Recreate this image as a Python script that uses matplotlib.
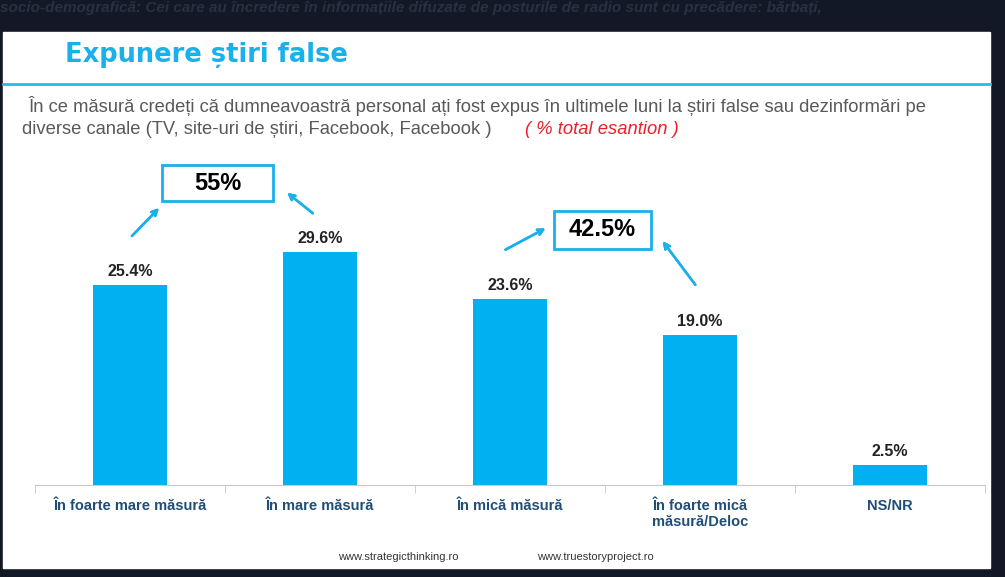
import matplotlib.pyplot as plt
from matplotlib.patches import Rectangle

plt.rcParams["font.family"] = "Liberation Sans"

categories = ["În foarte mare măsură", "În mare măsură", "În mică măsură",
              "În foarte mică\nmăsură/Deloc", "NS/NR"]
values = [25.4, 29.6, 23.6, 19.0, 2.5]
labels = ["25.4%", "29.6%", "23.6%", "19.0%", "2.5%"]

W, H = 1005, 577
fig = plt.figure(figsize=(W / 100, H / 100), dpi=100)
fig.patch.set_facecolor("#121826")

def fx(x): return x / W
def fy(y): return 1 - y / H

# slide background
fig.patches.append(Rectangle((fx(3), fy(568)), fx(987), (568 - 32) / H,
                             transform=fig.transFigure, color="white", zorder=-10))
fig.text(fx(0), fy(8), "socio-demografică: Cei care au încredere în informațiile difuzate de posturile de radio sunt cu precădere: bărbați,",
         fontsize=11, style="italic", weight="bold", color="#2a3040", va="center")

fig.text(fx(65), fy(55), "Expunere știri false", fontsize=18.5, weight="bold",
         color="#1ab0ea", va="center", family="DejaVu Sans")
fig.add_artist(plt.Line2D([fx(3), fx(990)], [fy(84), fy(84)], color="#2bb8ec", lw=2))
fig.text(fx(28), fy(106), "În ce măsură credeți că dumneavoastră personal ați fost expus în ultimele luni la știri false sau dezinformări pe",
         fontsize=13.2, color="#595959", va="center")
fig.text(fx(22), fy(130), "diverse canale (TV, site-uri de știri, Facebook, Facebook )",
         fontsize=13.2, color="#595959", va="center")
fig.text(fx(525), fy(130), "( % total esantion )", fontsize=13.2, color="#e8202a",
         style="italic", va="center")

ax = fig.add_axes([fx(35), 92 / H, 950 / W, (485 - 160) / H])
ax.set_facecolor("none")
x = range(len(values))
ax.bar(x, values, width=0.385, color="#00b0f0")
for i, (v, l) in enumerate(zip(values, labels)):
    ax.text(i, v + 0.8, l, ha="center", va="bottom", fontsize=11.5, weight="bold", color="#222")
ax.set_xlim(-0.5, 4.5)
ax.set_ylim(0, 325 / 7.87)
ax.set_yticks([])
for s in ["top", "right", "left"]:
    ax.spines[s].set_visible(False)
ax.spines["bottom"].set_color("#c8c8c8")
ax.set_xticks([i + 0.5 for i in range(-1, 5)], minor=True)
ax.tick_params(axis="x", which="minor", length=6, color="#c8c8c8")
ax.set_xticks(list(x))
ax.set_xticklabels(categories, fontsize=10.5, weight="bold", color="#1f4e79")
ax.tick_params(axis="x", which="major", length=0, pad=10)

# callout boxes
for (x0, y0, x1, y1, txt) in [(162, 165, 273, 201, "55%"), (554, 211, 651, 249, "42.5%")]:
    fig.patches.append(Rectangle((fx(x0), fy(y1)), (x1 - x0) / W, (y1 - y0) / H,
                                 transform=fig.transFigure, fill=False,
                                 edgecolor="#1ab0ea", lw=2))
    fig.text(fx((x0 + x1) / 2), fy((y0 + y1) / 2), txt, ha="center", va="center",
             fontsize=17, weight="bold", color="black")
for (a, b) in [((130, 238), (161, 206)), ((315, 215), (285, 191)),
               ((503, 251), (548, 227)), ((697, 287), (661, 239))]:
    fig.add_artist(plt.annotate("", xy=(fx(b[0]), fy(b[1])), xytext=(fx(a[0]), fy(a[1])),
                                xycoords="figure fraction",
                                arrowprops=dict(arrowstyle="->", color="#1ab0ea", lw=1.8)))

fig.text(fx(398), fy(557), "www.strategicthinking.ro", fontsize=8, color="#333", ha="center", va="center")
fig.text(fx(595), fy(557), "www.truestoryproject.ro", fontsize=8, color="#333", ha="center", va="center")

fig.savefig("out.png", dpi=100, facecolor=fig.get_facecolor())
